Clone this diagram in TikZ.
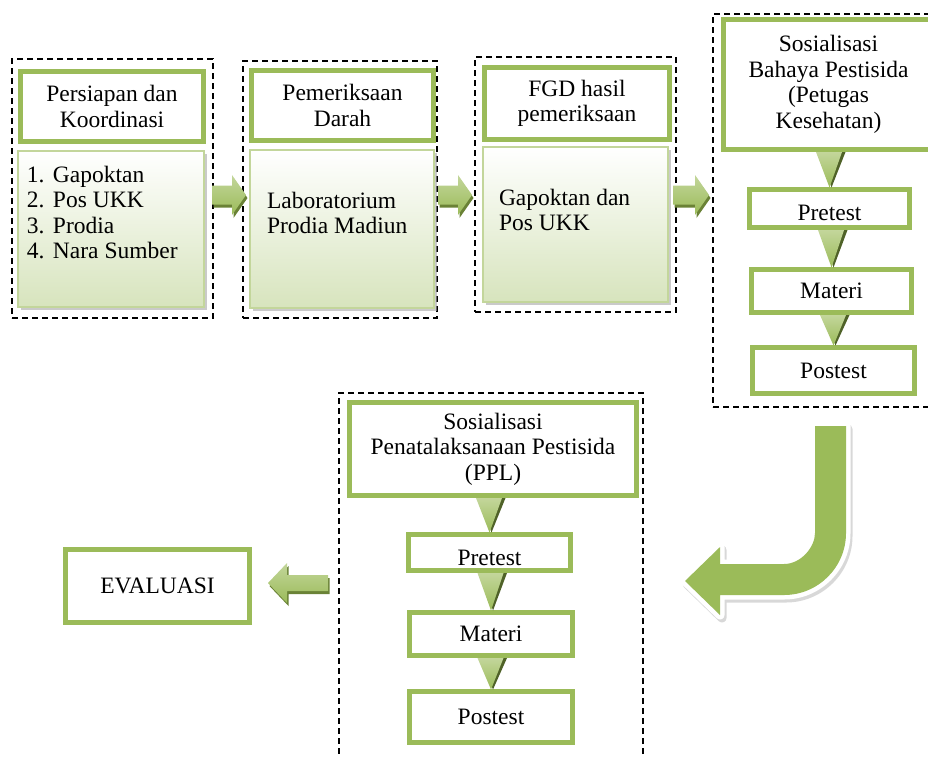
\documentclass[tikz,border=0pt]{standalone}
\usepackage{fontspec}
\setmainfont{Liberation Serif}
\usetikzlibrary{calc,shadows}
\definecolor{ogreen}{HTML}{9BBB59}
\definecolor{lgreen}{HTML}{D7E4BD}
\definecolor{mgreen}{HTML}{C3D69B}
\definecolor{dgreen}{HTML}{4F6228}
\definecolor{agreen}{HTML}{6A8236}
\newcommand\bx[7]{%
  \pgfmathsetmacro\bxcx{(#3+#5)/2}\pgfmathsetmacro\bxcy{(#4+#6)/2}%
  \pgfmathsetmacro\bxw{#5-#3}\pgfmathsetmacro\bxh{#6-#4}%
  \node[#1, minimum width=\bxw pt, minimum height=\bxh pt] (#2) at (\bxcx,\bxcy) {#7};}
\newcommand\barrp[7]{%
  \path[#1] ($([shift={#7}]#2)+(0,-#6)$) -- ($([shift={#7}]#3)+({-(#4)},-#6)$) -- ($([shift={#7}]#3)+({-(#4)},-#5)$) -- ([shift={#7}]#3) -- ($([shift={#7}]#3)+({-(#4)},#5)$) -- ($([shift={#7}]#3)+({-(#4)},#6)$) -- ($([shift={#7}]#2)+(0,#6)$) -- cycle;}
\newcommand\blockarrow[5]{\barrp{arrdark}{#1}{#2}{#3}{#4}{#5}{(1.5,3)}\barrp{arrlight}{#1}{#2}{#3}{#4}{#5}{(0,0)}}
\newcommand\dtri[2]{%
  \coordinate (tt) at ($(#2.north |- #1.south)+(0,2.5)$);
  \coordinate (tb) at ($(#2.north)+(0,-2)$);
  \fill[dgreen] ($(tt)+(-10,0)$) -- ($(tt)+(16,0)$) -- ($(tb)+(2,0)$) -- cycle;
  \shade[top color=mgreen, bottom color=ogreen] ($(tt)+(-13.5,0)$) -- ($(tt)+(12.5,0)$) -- (tb) -- cycle;}
\newcommand\upath{(815,426) -- (846,426) -- (846,533) .. controls (846,567.2) and (818.2,595) .. (784,595) -- (720,595) -- (720,615) -- (685,581) -- (720,547) -- (720,564) -- (784,564) .. controls (801.1,564) and (815,546.9) .. (815,533) -- cycle}
\newcommand\itm[1]{\makebox[26pt][l]{#1}}
\begin{document}
\begin{tikzpicture}[x=1pt,y=-1pt,
  every node/.style={inner sep=0pt, outer sep=0pt, font=\fontsize{23.5}{25.5}\selectfont},
  dashbox/.style={draw=black, line width=1.5pt, dash pattern=on 6pt off 4pt},
  hdr/.style={draw=ogreen, line width=5pt, fill=white, align=center},
  bodybox/.style={draw=mgreen, line width=1.5pt, top color=white, bottom color=lgreen,
    drop shadow={shadow xshift=3pt, shadow yshift=-3pt, fill=black!35, opacity=0.6}},
  arrlight/.style={top color=mgreen, bottom color=ogreen},
  arrdark/.style={fill=agreen},
  txt/.style={anchor=base west}]
\useasboundingbox (0,0) rectangle (928,756);
\clip (0,0) rectangle (928,756);
% dashed frames
\bx{dashbox}{d1}{12}{59}{213}{318}{}
\bx{dashbox}{d2}{243}{61}{437}{318}{}
\bx{dashbox}{d3}{475}{57}{676}{312}{}
\bx{dashbox}{d4}{713}{14}{950}{407}{}
\bx{dashbox}{d5}{339}{393}{643}{790}{}
% column 1
\bx{hdr}{h1}{20.5}{71.5}{203.5}{141.5}{Persiapan dan\\Koordinasi}
\bx{bodybox}{b1}{18}{151}{204}{307}{}
\node[txt] (t1) at (27,182) {\begin{tabular}[t]{@{}l@{}}\itm{1.}Gapoktan\\\itm{2.}Pos UKK\\\itm{3.}Prodia\\\itm{4.}Nara Sumber\end{tabular}};
% column 2
\bx{hdr}{h2}{251.5}{70.5}{433.5}{140.5}{Pemeriksaan\\Darah}
\bx{bodybox}{b2}{250}{150}{434}{308}{}
\node[txt] (t2) at (267,208) {\begin{tabular}[t]{@{}l@{}}Laboratorium\\Prodia Madiun\end{tabular}};
% column 3
\bx{hdr}{h3}{484.5}{67.5}{669.5}{139.5}{FGD hasil\\pemeriksaan}
\bx{bodybox}{b3}{483}{147}{668}{302}{}
\node[txt] (t3) at (499,205) {\begin{tabular}[t]{@{}l@{}}Gapoktan dan\\Pos UKK\end{tabular}};
% column 4
\bx{hdr}{h4}{723.5}{19.5}{933.5}{149.5}{Sosialisasi\\Bahaya Pestisida\\(Petugas\\Kesehatan)}
\bx{hdr, text height=23pt, text depth=0pt}{p4}{749.5}{189.5}{909.5}{227.5}{Pretest}
\bx{hdr}{m4}{751.5}{269.5}{911.5}{312.5}{Materi}
\bx{hdr}{s4}{752.5}{347.5}{914.5}{393.5}{Postest}
\dtri{h4}{p4}
\dtri{p4}{m4}
\dtri{m4}{s4}
% bottom column
\bx{hdr}{h5}{349.5}{402.5}{636.5}{495.5}{Sosialisasi\\Penatalaksanaan Pestisida\\(PPL)}
\bx{hdr, text height=25pt, text depth=0pt}{p5}{408.5}{534.5}{570.5}{570.5}{Pretest}
\bx{hdr}{m5}{409.5}{612.5}{572.5}{655.5}{Materi}
\bx{hdr}{s5}{409.5}{691.5}{572.5}{742.5}{Postest}
\dtri{h5}{p5}
\dtri{p5}{m5}
\dtri{m5}{s5}
% evaluation
\bx{hdr}{ev}{65.5}{549.5}{249.5}{622.5}{EVALUASI}
% block arrows
\coordinate (a1s) at ($(d1.east |- 0,195)+(-1,0)$);
\coordinate (a1e) at ($(d2.west |- 0,195)+(3,0)$);
\coordinate (a2s) at ($(d2.east |- 0,195)+(1,0)$);
\coordinate (a2e) at ($(d3.west |- 0,195)+(-3,0)$);
\coordinate (a3s) at ($(d3.east |- 0,195)+(-3,0)$);
\coordinate (a3e) at ($(d4.west |- 0,195)+(-4,0)$);
\blockarrow{a1s}{a1e}{14}{20}{9.5}
\blockarrow{a2s}{a2e}{14}{20}{9.5}
\blockarrow{a3s}{a3e}{14}{20}{9.5}
\coordinate (a4s) at ($(d5.west |- ev.east)+(-11,-3)$);
\coordinate (a4e) at ($(ev.east)+(18.5,-3)$);
\blockarrow{a4s}{a4e}{-19}{20}{8}
% U-turn arrow
\path[shift={(2,3)}, fill=black!30, draw=black!30, line width=9pt, line join=round, opacity=0.5] \upath;
\path[fill=white, draw=white, line width=9pt, line join=round] \upath;
\path[fill=ogreen] \upath;
\end{tikzpicture}
\end{document}
